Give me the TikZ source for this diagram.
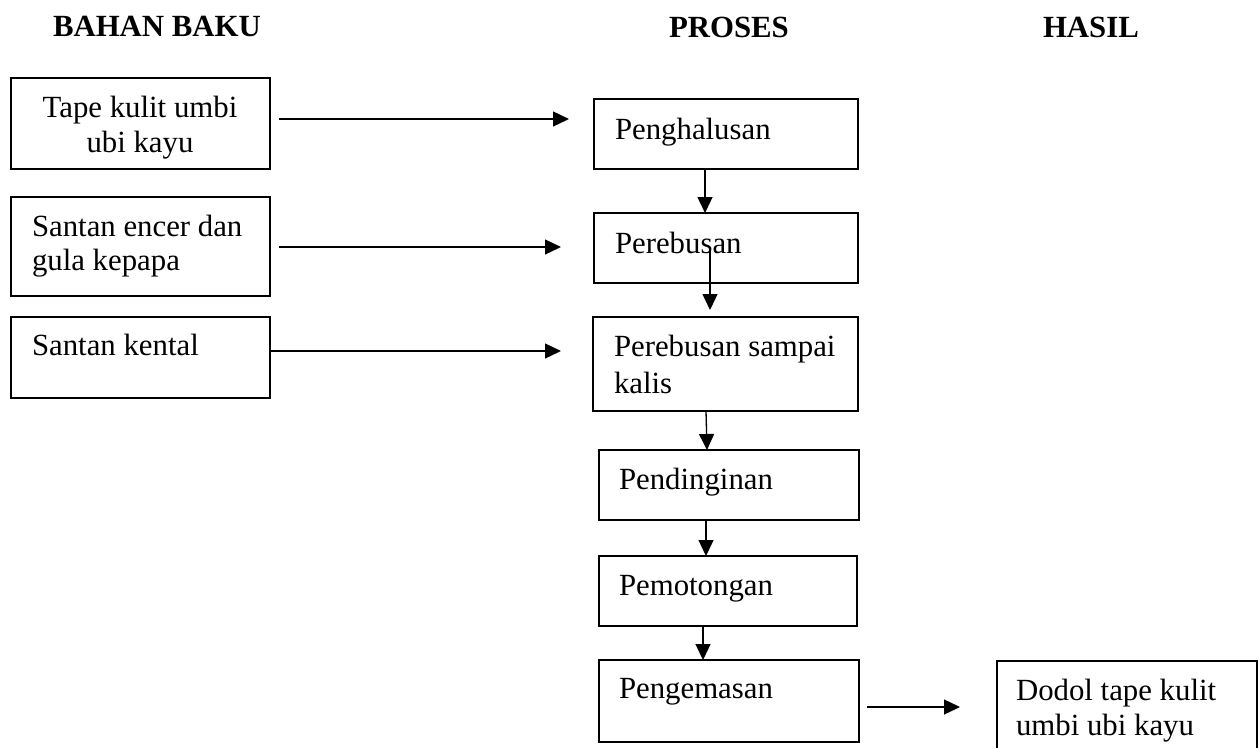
\documentclass[tikz,border=0pt]{standalone}
\usepackage{fontspec}
\setmainfont{Liberation Serif}
\usetikzlibrary{arrows.meta}
\begin{document}
\begin{tikzpicture}[x=1pt,y=-1pt,
  box/.style={draw,line width=1.6pt,inner sep=0pt,outer sep=0pt,rectangle},
  txt/.style={inner sep=0pt,outer sep=0pt,font=\fontsize{30.8}{35}\selectfont},
  head/.style={inner sep=0pt,outer sep=0pt,font=\fontsize{30.8}{35}\selectfont\bfseries,anchor=base west},
  arr/.style={line width=1.3pt,-{Triangle[length=16pt,width=15pt]}}]
\useasboundingbox (0,0) rectangle (1260,747);
% headers
\node[head] (hb) at (53,36) {BAHAN BAKU};
\node[head] (hp) at (669,37) {PROSES};
\node[head] (hh) at (1043,37) {HASIL};
% input boxes
\node[box,minimum width=259pt,minimum height=91pt] (b1) at (140.5,123.5) {};
\node[box,minimum width=259pt,minimum height=99pt] (b2) at (140.5,246.5) {};
\node[box,minimum width=259pt,minimum height=81pt] (b3) at (140.5,357.5) {};
% process boxes
\node[box,minimum width=264pt,minimum height=70pt] (p1) at (726,134) {};
\node[box,minimum width=264pt,minimum height=70pt] (p2) at (726,248) {};
\node[box,minimum width=265pt,minimum height=94pt] (p3) at (725.5,364) {};
\node[box,minimum width=260pt,minimum height=70pt] (p4) at (729,485) {};
\node[box,minimum width=258pt,minimum height=70pt] (p5) at (728,591) {};
\node[box,minimum width=260pt,minimum height=82pt] (p6) at (729,701) {};
% result box
\node[box,minimum width=260pt,minimum height=119pt] (r1) at (1127,720.5) {};
% texts
\node[txt,anchor=base] (t1a) at (140,117) {Tape kulit umbi};
\node[txt,anchor=base] (t1b) at (140,152) {ubi kayu};
\node[txt,anchor=base west] (t2a) at (32,236) {Santan encer dan};
\node[txt,anchor=base west] (t2b) at (32,270) {gula kepapa};
\node[txt,anchor=base west] (t3) at (32,355) {Santan kental};
\node[txt,anchor=base west] (tp1) at (615,139) {Penghalusan};
\node[txt,anchor=base west] (tp2) at (615,253) {Perebusan};
\node[txt,anchor=base west] (tp3a) at (614,356) {Perebusan sampai};
\node[txt,anchor=base west] (tp3b) at (614,393) {kalis};
\node[txt,anchor=base west] (tp4) at (619,489) {Pendinginan};
\node[txt,anchor=base west] (tp5) at (619,595) {Pemotongan};
\node[txt,anchor=base west] (tp6) at (619,698) {Pengemasan};
\node[txt,anchor=base west] (tr1a) at (1016,700) {Dodol tape kulit};
\node[txt,anchor=base west] (tr1b) at (1016,735) {umbi ubi kayu};
% connector coordinates
\coordinate (a1s) at (279,119);
\coordinate (a1e) at (569,119);
\coordinate (a2s) at (279,247);
\coordinate (a2e) at (561,247);
\coordinate (a3e) at (561,351);
\coordinate (v2s) at (710,250);
\coordinate (v2e) at (710,310);
\coordinate (hs) at (867,707);
\coordinate (he) at (960,707);
% horizontal arrows
\draw[arr] (a1s) -- (a1e);
\draw[arr] (a2s) -- (a2e);
\draw[arr] (b3.east |- a3e) -- (a3e);
\draw[arr] (hs) -- (he);
% vertical arrows
\draw[arr] (p1.south -| 705,0) -- (p2.north -| 705,0);
\draw[arr] (v2s) -- (v2e);
\draw[arr] (p3.south -| 706,0) -- (p4.north -| 707,0);
\draw[arr] (p4.south -| 706,0) -- (p5.north -| 706,0);
\draw[arr] (p5.south -| 703,0) -- (p6.north -| 703,0);
\end{tikzpicture}
\end{document}
